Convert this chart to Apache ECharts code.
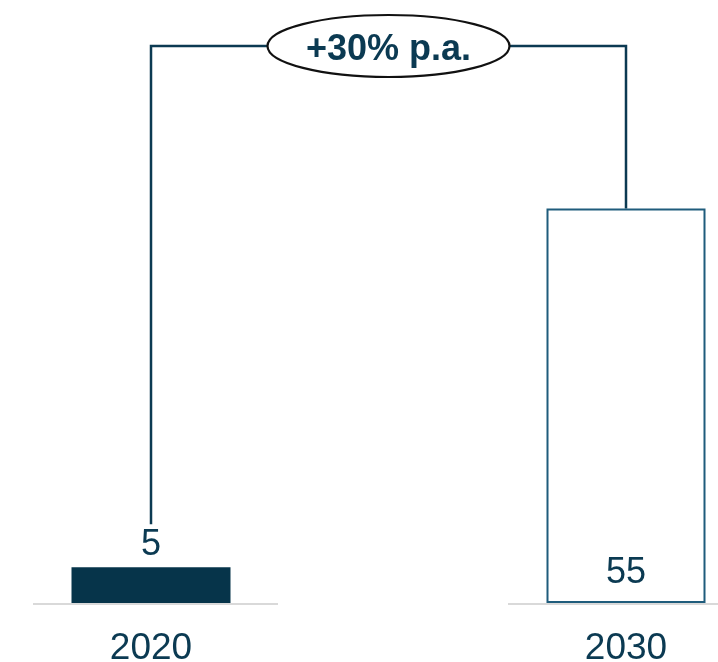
<!DOCTYPE html>
<html>
<head>
<meta charset="utf-8">
<script src="https://cdn.jsdelivr.net/npm/echarts@6/dist/echarts.min.js"></script>
<style>
html,body{margin:0;padding:0;background:#fff;}
#c{width:718px;height:662px;}
</style>
</head>
<body>
<div id="c"></div>
<script>
const categories = ['2020', '2030'];
const values = [5, 55];
const growthLabel = '+30% p.a.';

const FONT = 'Liberation Sans, Arial, sans-serif';
const DARK = '#06344a';
const TEXT = '#0b3a52';

const chart = echarts.init(document.getElementById('c'));

const barStyles = [
  { itemStyle: { color: DARK }, label: { position: 'top', distance: 4 } },
  { itemStyle: { color: '#ffffff', borderColor: '#1f5c7c', borderWidth: 2 }, label: { position: 'insideBottom', distance: 12 } }
];

chart.setOption({
  animation: false,
  grid: { left: -86.5, right: -145.5, top: 29, bottom: 59, containLabel: false, outerBoundsMode: 'none' },
  xAxis: {
    type: 'category',
    data: categories,
    axisLine: { show: false },
    axisTick: { show: false },
    axisLabel: { margin: 27, fontSize: 37, color: TEXT, fontFamily: FONT }
  },
  yAxis: { type: 'value', min: 0, max: 80, show: false, splitLine: { show: false } },
  series: [
    {
      type: 'custom',
      z: 1,
      data: categories.map((c, i) => [i]),
      renderItem: function (params, api) {
        const p = api.coord([api.value(0), 0]);
        return {
          type: 'line',
          shape: { x1: p[0] - 118, y1: p[1] + 1, x2: p[0] + 127, y2: p[1] + 1 },
          style: { stroke: '#d9d9d9', lineWidth: 2 }
        };
      }
    },
    {
      type: 'bar',
      z: 2,
      barWidth: 159,
      data: values.map((v, i) => Object.assign({ value: v }, barStyles[i])),
      label: { show: true, fontSize: 36, color: TEXT, fontFamily: FONT }
    },
    {
      type: 'custom',
      z: 3,
      data: [[0]],
      renderItem: function (params, api) {
        const p1 = api.coord([0, values[0]]);
        const p2 = api.coord([1, values[1]]);
        const yTop = 46;
        const cx = (p1[0] + p2[0]) / 2;
        return {
          type: 'group',
          children: [
            {
              type: 'polyline',
              shape: { points: [[p1[0], p1[1] - 43], [p1[0], yTop], [p2[0], yTop], [p2[0], p2[1]]] },
              style: { stroke: '#0c3a52', lineWidth: 2.5, fill: null }
            },
            {
              type: 'ellipse',
              shape: { cx: cx, cy: yTop, rx: 121, ry: 31 },
              style: { fill: '#ffffff', stroke: '#111111', lineWidth: 2.2 }
            },
            {
              type: 'text',
              style: {
                text: growthLabel, x: cx, y: 50,
                fill: TEXT, font: 'bold 36px ' + FONT,
                align: 'center', verticalAlign: 'middle'
              }
            }
          ]
        };
      }
    }
  ]
});
</script>
</body>
</html>
